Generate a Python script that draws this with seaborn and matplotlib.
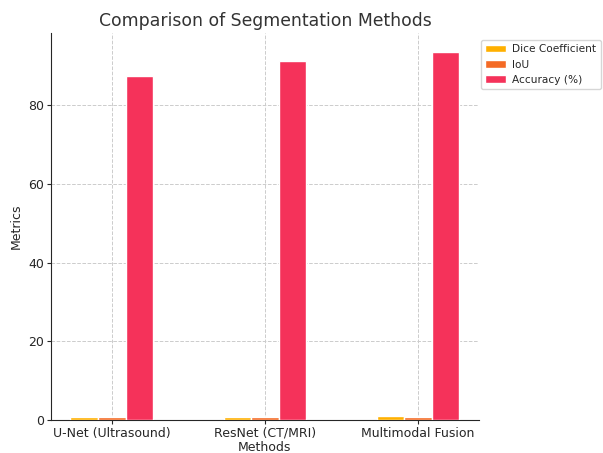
import numpy as np
import pandas as pd
import seaborn as sns
import matplotlib.pyplot as plt

methods = ["U-Net (Ultrasound)", "ResNet (CT/MRI)", "Multimodal Fusion"]
dice = [0.85, 0.88, 0.91]
iou = [0.78, 0.81, 0.84]
accuracy = [87.4, 91.2, 93.6]

metrics = ["Dice Coefficient", "IoU", "Accuracy (%)"]
colors = ["#FFB000", "#F46A25", "#F5325A"]

df = pd.DataFrame({"Methods": methods, "Dice Coefficient": dice,
                   "IoU": iou, "Accuracy (%)": accuracy})
long_df = df.melt(id_vars="Methods", var_name="Metric", value_name="Value")

sns.set_style("white")
fig = plt.figure(figsize=(6.03, 4.53), dpi=100)
ax = fig.add_axes([0.0846, 0.0728, 0.7094, 0.8542])

sns.barplot(data=long_df, x="Methods", y="Value", hue="Metric",
            hue_order=metrics, palette=colors, width=0.54,
            saturation=1, ax=ax, zorder=3)

ax.set_xlim(-0.397, 2.397)
ax.set_ylim(0, 98.3)
ax.grid(True, linestyle="--", color="#cccccc", linewidth=0.7, zorder=0)
ax.set_axisbelow(True)
sns.despine(ax=ax)

ax.set_title("Comparison of Segmentation Methods", fontsize=12.4, color="#333333", pad=5)
ax.set_xlabel("Methods", fontsize=9, labelpad=1)
ax.set_ylabel("Metrics", fontsize=9, labelpad=4)
ax.tick_params(axis="both", labelsize=9, length=3, pad=2, left=True, bottom=True)
ax.set_yticks([0, 20, 40, 60, 80])

ax.legend(loc="upper left", bbox_to_anchor=(0.997, 0.99), fontsize=7.6,
          frameon=True, title=None, borderaxespad=0.3, handletextpad=0.6,
          borderpad=0.4)

fig.savefig("out.png", dpi=100)
